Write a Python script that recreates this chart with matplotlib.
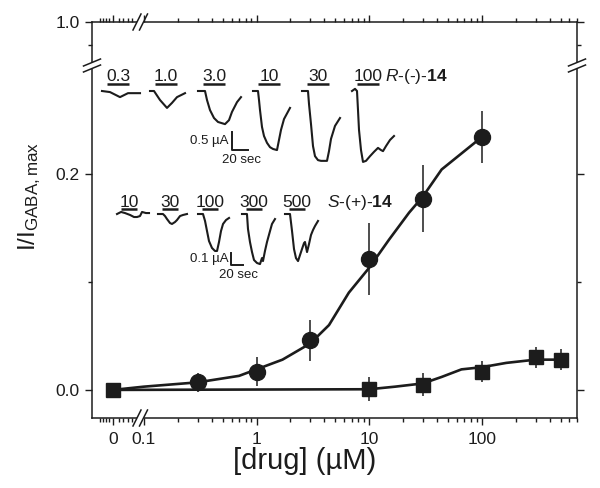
import numpy as np
import matplotlib
matplotlib.use('Agg')
import matplotlib.pyplot as plt
from matplotlib.ticker import FixedLocator, FixedFormatter, NullFormatter

plt.rcParams['font.family'] = ['Liberation Sans', 'DejaVu Sans']
plt.rcParams['mathtext.fontset'] = 'custom'
plt.rcParams['mathtext.rm'] = 'Liberation Sans'
plt.rcParams['mathtext.it'] = 'Liberation Sans:italic'
plt.rcParams['mathtext.bf'] = 'Liberation Sans:bold'

INK = '#1c1c1c'

# ---- dose-response points ----
conc_R = [0.3, 1, 3, 10, 30, 100]
resp_R = [0.007, 0.017, 0.046, 0.121, 0.177, 0.234]
err_R = [0.009, 0.013, 0.019, 0.033, 0.031, 0.024]

conc_S = [0, 10, 30, 100, 300, 500]
resp_S = [0.0, 0.001, 0.005, 0.017, 0.030, 0.028]
err_S = [0.003, 0.011, 0.011, 0.010, 0.010, 0.010]

# fitted curves as drawn
fit_x_R = [0, 0.1, 0.3, 0.7, 1.7, 3, 4.4, 6.6, 10, 15, 22.6, 30, 44, 100]
fit_y_R = [0.0, 0.003, 0.007, 0.013, 0.028, 0.043, 0.060, 0.090, 0.113, 0.139, 0.164, 0.179, 0.204, 0.234]
fit_x_S = [0, 10, 17, 30, 44, 66, 100, 165, 300, 500]
fit_y_S = [0.0, 0.0006, 0.003, 0.006, 0.012, 0.019, 0.021, 0.025, 0.028, 0.028]

x_major = [0, 0.1, 1, 10, 100]
x_major_labels = ['0', '0.1', '1', '10', '100']
y_major = [0.0, 0.2, 1.0]
y_major_labels = ['0.0', '0.2', '1.0']

# ---- current traces: time (s) from trace start, current (uA) from baseline ----
labels_R = ['0.3', '1.0', '3.0', '10', '30', '100']
traces_R = [
    ([0, 10, 22.5, 32.5, 47.5], [0, -0.03, -0.17, -0.06, -0.06]),
    ([0, 5, 12.5, 21.25, 27.5, 33.75, 43.75], [0, 0, -0.25, -0.47, -0.33, -0.17, -0.06]),
    ([0, 8.75, 11.25, 15, 20, 25, 33.75, 38.75, 42.5, 48.75, 53.75],
     [0, 0, -0.25, -0.53, -0.75, -0.86, -0.92, -0.81, -0.58, -0.31, -0.17]),
    ([0, 6.25, 7.5, 8.75, 11.25, 13.75, 17.5, 21.25, 25, 30, 32.5, 35, 38.75, 46.25],
     [0, 0, -0.25, -0.53, -1.0, -1.25, -1.44, -1.56, -1.61, -1.64, -1.36, -1.08, -0.78, -0.47]),
    ([0, 7.5, 8.75, 11.25, 13.75, 16.25, 20, 23.75, 31.25, 33.75, 36.25, 41.25, 47.5],
     [0, 0, -0.36, -0.92, -1.53, -1.81, -1.92, -1.94, -1.94, -1.67, -1.33, -0.97, -0.75]),
    ([0, 3.75, 6.25, 7.5, 8.75, 11.25, 13.75, 17.5, 22.5, 27.5, 32.5, 36.25, 38.75, 42.5, 47.5, 52.5],
     [0, 0.06, 0, -0.53, -1.08, -1.64, -1.97, -1.94, -1.81, -1.69, -1.58, -1.64, -1.67, -1.53, -1.36, -1.25]),
]
labels_S = ['10', '30', '100', '300', '500']
traces_S = [
    ([0, 6.7, 13.3, 21.7, 28.3, 33.3, 38.3, 41.7, 48.3, 53.3],
     [0, 0.017, 0.008, -0.008, -0.025, -0.025, -0.017, 0.017, 0.008, 0.008]),
    ([0, 8.3, 11.7, 15, 20, 23.3, 28.3, 31.7, 36.7, 41.7, 48.3],
     [0, 0, -0.017, -0.042, -0.075, -0.083, -0.067, -0.05, -0.017, -0.008, 0]),
    ([0, 8.3, 11.7, 15, 18.3, 23.3, 28.3, 31.7, 35, 38.3, 41.7, 46.7, 51.7],
     [0, 0, -0.058, -0.142, -0.225, -0.283, -0.308, -0.308, -0.233, -0.142, -0.083, -0.05, -0.033]),
    ([0, 8.3, 10, 13.3, 16.7, 20, 25, 30, 33.3, 35, 38.3, 41.7, 46.7, 50, 55],
     [0, 0, -0.125, -0.233, -0.317, -0.383, -0.408, -0.417, -0.367, -0.392, -0.308, -0.233, -0.142, -0.083, -0.042]),
    ([0, 8.3, 11.7, 15, 18.3, 21.7, 25, 28.3, 31.7, 33.3, 36.7, 40, 43.3, 46.7, 50, 55],
     [0, 0, -0.142, -0.292, -0.367, -0.392, -0.342, -0.292, -0.242, -0.233, -0.317, -0.25, -0.175, -0.133, -0.1, -0.058]),
]

# ---- broken axis scales ----
X_BREAK = 0.092
U0 = -1.2743
SLOPE = (np.log10(X_BREAK) - U0) / X_BREAK


def fwd_x(x):
    x = np.asarray(x, dtype=float)
    lg = np.log10(np.where(x > X_BREAK, x, X_BREAK))
    return np.where(x > X_BREAK, lg, U0 + SLOPE * x)


def inv_x(u):
    u = np.asarray(u, dtype=float)
    ub = np.log10(X_BREAK)
    return np.where(u > ub, 10 ** np.clip(u, ub, 300), (u - U0) / SLOPE)


Y_LO, Y_HI, Y_SQ = 0.30, 0.81, 0.213


def fwd_y(y):
    y = np.asarray(y, dtype=float)
    return np.where(y <= Y_LO, y, np.where(y >= Y_HI, Y_LO + (y - Y_HI) * Y_SQ, Y_LO))


def inv_y(u):
    u = np.asarray(u, dtype=float)
    return np.where(u <= Y_LO, u, Y_HI + (u - Y_LO) / Y_SQ)


fig = plt.figure(figsize=(6, 4.88), dpi=100)
ax = fig.add_axes([92 / 600, 70 / 488, 485 / 600, 396 / 488])
ax.set_xscale('function', functions=(fwd_x, inv_x))
ax.set_yscale('function', functions=(fwd_y, inv_y))
ax.set_xlim(-0.072, 700)
ax.set_ylim(-0.026, 1.0)

ax.errorbar(conc_R, resp_R, yerr=err_R, fmt='none', ecolor=INK, elinewidth=1.1, capsize=0, zorder=2)
ax.errorbar(conc_S, resp_S, yerr=err_S, fmt='none', ecolor=INK, elinewidth=1.1, capsize=0, zorder=2)
ax.plot(fit_x_R, fit_y_R, color=INK, lw=1.9, zorder=3)
ax.plot(fit_x_S, fit_y_S, color=INK, lw=1.9, zorder=3)
ax.plot(conc_R, resp_R, 'o', color=INK, ms=11.5, zorder=4)
ax.plot(conc_S, resp_S, 's', color=INK, ms=9.5, zorder=5)

x_minor = [-0.045, -0.035, -0.025, -0.015, 0.02, 0.035, 0.05, 0.065]
for d in [0.1, 1, 10]:
    x_minor += [d * k for k in range(2, 10)]
x_minor += [100 * k for k in range(2, 8)]
ax.xaxis.set_major_locator(FixedLocator(x_major))
ax.xaxis.set_major_formatter(FixedFormatter(x_major_labels))
ax.xaxis.set_minor_locator(FixedLocator(x_minor))
ax.xaxis.set_minor_formatter(NullFormatter())
ax.yaxis.set_major_locator(FixedLocator(y_major))
ax.yaxis.set_major_formatter(FixedFormatter(y_major_labels))
ax.yaxis.set_minor_locator(FixedLocator([0.1, 0.9]))
ax.yaxis.set_minor_formatter(NullFormatter())

ax.tick_params(which='both', direction='out', top=True, right=True, colors=INK, width=1.0, labelsize=12.5)
ax.tick_params(which='major', length=5)
ax.tick_params(which='minor', length=3)
ax.tick_params(axis='x', pad=5)
ax.tick_params(axis='y', pad=4)
for sp in ax.spines.values():
    sp.set_linewidth(1.1)
    sp.set_color(INK)

ax.set_xlabel('[drug] (µM)', fontsize=21, color=INK)
ax.xaxis.set_label_coords(0.439, -0.074)
ax.set_ylabel(r'I/I$_{\mathrm{GABA,max}}$', fontsize=17.5, color=INK)
ax.yaxis.set_label_coords(-0.10, 0.56)

# ---- axis break marks (figure pixel overlay) ----
ov = fig.add_axes([0, 0, 1, 1])
ov.set_xlim(0, 600)
ov.set_ylim(488, 0)
ov.axis('off')
for sx in (92, 577):
    ov.plot([sx, sx], [62, 69], color='white', lw=3, solid_capstyle='butt')
    ov.plot([sx - 8.5, sx + 8.5], [66, 59], color=INK, lw=1.1)
    ov.plot([sx - 8.5, sx + 8.5], [72, 65], color=INK, lw=1.1)
for sy in (418, 22):
    ov.plot([137, 144], [sy, sy], color='white', lw=3, solid_capstyle='butt')
    ov.plot([133, 141], [sy + 8, sy - 8], color=INK, lw=1.1)
    ov.plot([139.5, 147.5], [sy + 8, sy - 8], color=INK, lw=1.1)

# ---- inset traces ----
BAR_ON, BAR_OFF = 6, 34


def draw_row(rect, xlim, ylim, starts, traces, labels, bar_y, lab_y, name, name_xy,
             bar_scale, bar_text, bar_x, bar_top):
    ins = fig.add_axes(rect)
    ins.set_xlim(*xlim)
    ins.set_ylim(*ylim)
    ins.axis('off')
    for t0, (tt, ii), lab in zip(starts, traces, labels):
        ins.plot(np.asarray(tt) + t0, ii, color=INK, lw=1.5, solid_joinstyle='round')
        ins.plot([t0 + BAR_ON, t0 + BAR_OFF], [bar_y, bar_y], color=INK, lw=1.8, solid_capstyle='butt')
        ins.text(t0 + (BAR_ON + BAR_OFF) / 2, lab_y, lab, ha='center', va='baseline',
                 fontsize=12.5, color=INK)
    ins.text(name_xy[0], name_xy[1], name, ha='left', va='baseline', fontsize=12.5, color=INK)
    # scale bar
    ins.plot([bar_x, bar_x, bar_x + 20], [bar_top, bar_top - bar_scale, bar_top - bar_scale],
             color=INK, lw=1.4)
    dy = ylim[1] - ylim[0]
    ins.text(bar_x - 4, bar_top - bar_scale * 0.5, bar_text, ha='right', va='center',
             fontsize=9.5, color=INK)
    ins.text(bar_x + 12, bar_top - bar_scale - 0.035 * dy, '20 sec', ha='center', va='top',
             fontsize=9.5, color=INK)


draw_row([95 / 600, 318 / 488, 310 / 600, 110 / 488], (0, 387.5), (-2.194, 0.861),
         [8.75, 68.75, 128.75, 197.5, 258.75, 321.25], traces_R, labels_R,
         0.194, 0.264, r'$\mathit{R}$-(-)-$\mathbf{14}$', (362.5, 0.264),
         0.5, '0.5 µA', 171.25, -1.139)
draw_row([95 / 600, 198 / 488, 310 / 600, 100 / 488], (0, 516.7), (-0.633, 0.2),
         [36.7, 105, 171.7, 245, 316.7], traces_S, labels_S,
         0.042, 0.0625, r'$\mathit{S}$-(+)-$\mathbf{14}$', (386.7, 0.0625),
         0.1, '0.1 µA', 226.7, -0.325)

fig.savefig('out.png', dpi=100)
